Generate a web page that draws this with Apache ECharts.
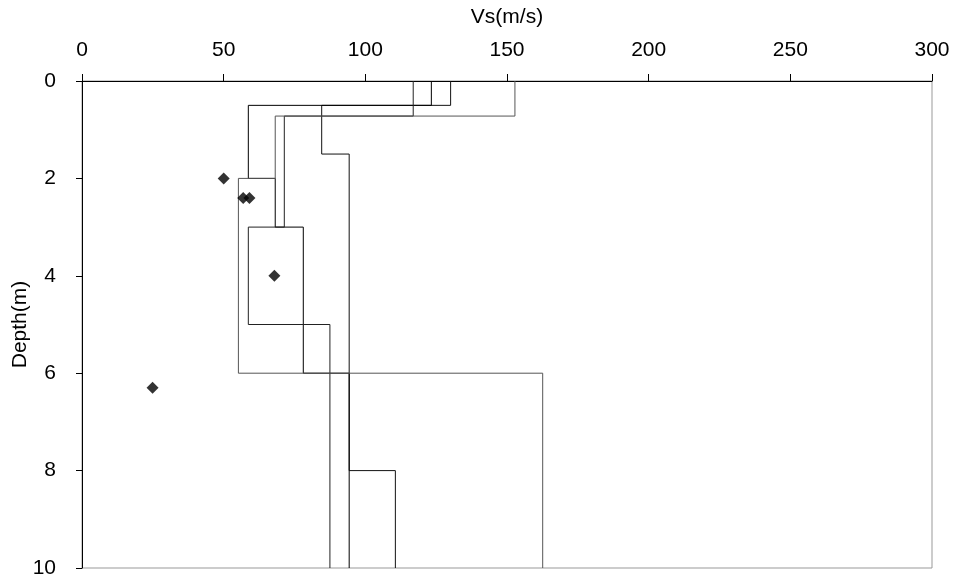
<!DOCTYPE html>
<html>
<head>
<meta charset="utf-8">
<script src="https://cdn.jsdelivr.net/npm/echarts@6/dist/echarts.min.js"></script>
<style>html,body{margin:0;padding:0;background:#fff}#c{width:956px;height:581px}</style>
</head>
<body>
<div id="c"></div>
<script>
// Velocity profiles: layer boundaries (depth, m) and Vs of each layer (m/s)
var profileA_depths = [0, 0.5, 1.5, 8, 10];
var profileA_vs     = [130.1, 84.6, 94.3, 110.6];
var profileB_depths = [0, 0.5, 2, 3, 6, 10];
var profileB_vs     = [123.3, 58.7, 68.2, 78.1, 94.3];
var profileC_depths = [0, 0.72, 3, 5, 10];
var profileC_vs     = [116.9, 71.4, 58.7, 87.5];
var profileD_depths = [0, 0.72, 2, 6, 10];
var profileD_vs     = [152.8, 68.2, 55.2, 162.6];
// Measured points
var pointVs    = [50, 56.9, 59.1, 67.9, 24.9];
var pointDepth = [2.0, 2.4, 2.4, 4.0, 6.3];
// Axis ticks
var xTicks = [0, 50, 100, 150, 200, 250, 300];
var yTicks = [0, 2, 4, 6, 8, 10];

function stepPoints(depths, vs) {
  var pts = [];
  for (var i = 0; i < vs.length; i++) {
    pts.push([vs[i], depths[i]]);
    pts.push([vs[i], depths[i + 1]]);
  }
  return pts;
}
var profiles = [
  stepPoints(profileA_depths, profileA_vs),
  stepPoints(profileB_depths, profileB_vs),
  stepPoints(profileC_depths, profileC_vs),
  stepPoints(profileD_depths, profileD_vs)
];
var profileColors = ['#111', '#000', '#222', '#555'];
var scatterData = pointVs.map(function (v, i) { return [v, pointDepth[i]]; });

var font = '"Liberation Sans", Arial, sans-serif';
var series = profiles.map(function (p, i) {
  return {
    type: 'line', data: p, symbol: 'none', silent: true,
    lineStyle: { color: profileColors[i], width: 1 }, z: 2
  };
});
series.push({
  type: 'scatter', data: scatterData, symbol: 'diamond', symbolSize: 12,
  itemStyle: { color: '#000' }, z: 3
});

var chart = echarts.init(document.getElementById('c'), null, { renderer: 'canvas' });
chart.setOption({
  animation: false,
  backgroundColor: '#fff',
  grid: {
    left: 82, right: 24, top: 81, bottom: 13,
    containLabel: false, outerBoundsMode: 'none',
    show: true, borderColor: '#999', borderWidth: 1, backgroundColor: 'transparent'
  },
  xAxis: {
    type: 'value', position: 'top',
    min: xTicks[0], max: xTicks[xTicks.length - 1], interval: xTicks[1] - xTicks[0],
    name: 'Vs(m/s)', nameLocation: 'middle', nameGap: 53, nameMoveOverlap: false,
    nameTextStyle: { fontFamily: font, fontSize: 21, color: '#000' },
    axisLine: { show: true, onZero: false, lineStyle: { color: '#000', width: 1 } },
    axisTick: { show: true, inside: false, length: 7, lineStyle: { color: '#000' } },
    axisLabel: { fontFamily: font, fontSize: 21, color: '#000', margin: 20 },
    splitLine: { show: false }
  },
  yAxis: {
    type: 'value', inverse: true,
    min: yTicks[0], max: yTicks[yTicks.length - 1], interval: yTicks[1] - yTicks[0],
    name: 'Depth(m)', nameLocation: 'middle', nameGap: 51, nameRotate: 90, nameMoveOverlap: false,
    nameTextStyle: { fontFamily: font, fontSize: 21, color: '#000' },
    axisLine: { show: true, onZero: false, lineStyle: { color: '#000', width: 1 } },
    axisTick: { show: true, inside: false, length: 6, lineStyle: { color: '#000' } },
    axisLabel: { fontFamily: font, fontSize: 21, color: '#000', margin: 26 },
    splitLine: { show: false }
  },
  series: series
});
</script>
</body>
</html>
